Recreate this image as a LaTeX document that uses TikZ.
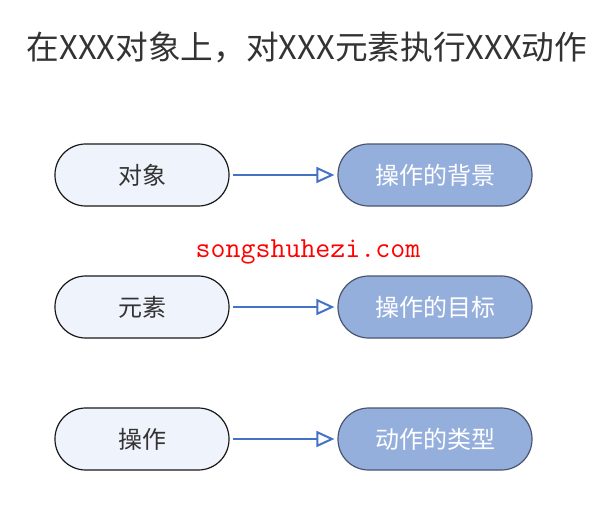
\documentclass[tikz,border=0pt]{standalone}
\usepackage{fontspec}
\usepackage{xcolor}
\usepackage{tikz}
\usetikzlibrary{arrows.meta}
\newfontfamily\cjk{Noto Sans CJK SC}
\definecolor{lightbox}{HTML}{EFF3FB}
\definecolor{darkbox}{HTML}{95AFDD}
\definecolor{darkline}{HTML}{4A5570}
\definecolor{flowblue}{HTML}{4472C4}
\definecolor{textgray}{HTML}{333333}

\begin{document}
\begin{tikzpicture}[x=0.75pt,y=-0.75pt,
  leftbox/.style={draw=black!90, line width=0.9pt, fill=lightbox, rounded corners=23pt,
    minimum width=130.5pt, minimum height=46.5pt, text=textgray, font=\cjk\fontsize{18}{18}\selectfont},
  rightbox/.style={draw=darkline, line width=0.9pt, fill=darkbox, rounded corners=23pt,
    minimum width=145.5pt, minimum height=46.5pt, text=white, font=\cjk\fontsize{18}{18}\selectfont},
  flow/.style={draw=flowblue, line width=1.5pt, shorten <=2.25pt, shorten >=2.25pt,
    -{Triangle[open, length=13.5pt, width=12pt, line width=1.5pt]}}]
\useasboundingbox (0,0) rectangle (614,521);
\node[text=textgray, font=\cjk\fontsize{24.5}{24.5}\selectfont] (title) at (307,47) {在XXX对象上，对XXX元素执行XXX动作};
% left column
\node[leftbox] (obj) at (142,175) {对象};
\node[leftbox] (elem) at (142,307) {元素};
\node[leftbox] (op) at (142,439) {操作};
% right column
\node[rightbox] (bg) at (435,175) {操作的背景};
\node[rightbox] (target) at (435,307) {操作的目标};
\node[rightbox] (kind) at (435,439) {动作的类型};
\draw[flow] (obj.east) -- (bg.west);
\draw[flow] (elem.east) -- (target.west);
\draw[flow] (op.east) -- (kind.west);
\node[text=red, font=\ttfamily\fontsize{21.8}{21.8}\selectfont] (mark) at (308,252) {songshuhezi.com};
\end{tikzpicture}
\end{document}
